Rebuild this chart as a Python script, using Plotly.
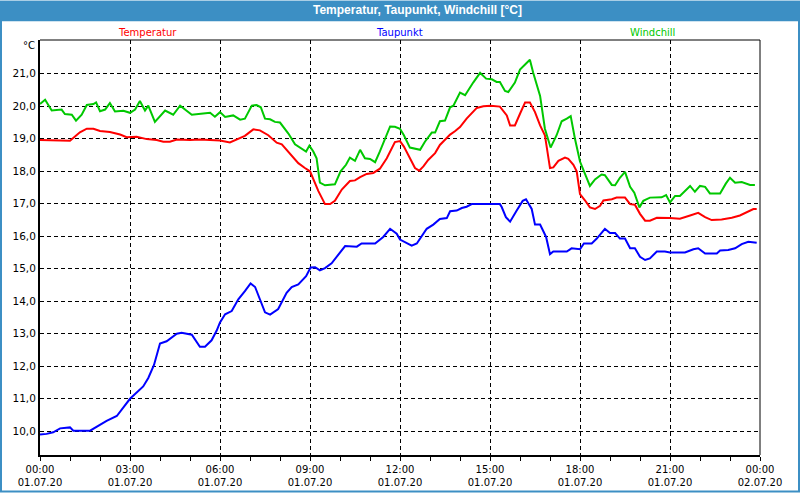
import plotly.graph_objects as go

# hours since 01.07.20 00:00 and readings in degC
temp_h = [0, 0.5, 0.75, 1.0, 1.33, 1.56, 1.78, 2.0, 2.33, 2.67, 2.89, 3.22, 3.56, 3.89, 4.11, 4.33, 4.56, 5.0, 5.33, 6.0,
          6.33, 6.56, 6.83, 7.11, 7.33, 7.61, 7.89, 8.06, 8.33, 8.61, 8.83, 9.0, 9.28, 9.5, 9.67, 9.83, 10.06, 10.33,
          10.5, 10.67, 10.89, 11.11, 11.33, 11.56, 11.83, 12.0,
          12.13, 12.33, 12.5, 12.64, 12.78, 12.94, 13.17, 13.33, 13.5, 13.67, 13.83, 14.0, 14.22, 14.39, 14.56, 14.78,
          15.02, 15.33, 15.56, 15.67, 15.83, 16.0, 16.17, 16.33, 16.5, 16.67, 16.83, 17.0, 17.11, 17.28, 17.5, 17.61,
          17.78, 17.89, 18.0,
          18.17, 18.33, 18.5, 18.67, 18.78, 19.06, 19.22, 19.5, 19.67, 19.83, 20.0, 20.17, 20.33, 20.56, 21.0, 21.33,
          21.67, 21.94, 22.17, 22.39, 22.72, 23.06, 23.33, 23.56, 23.78, 23.89]
temp = [18.96, 18.96, 18.94, 18.94, 19.2, 19.31, 19.31, 19.24, 19.21, 19.13, 19.05, 19.06, 18.99, 18.96, 18.91, 18.91,
        18.98, 18.96, 18.98, 18.95,
        18.89, 18.99, 19.09, 19.29, 19.26, 19.11, 18.88, 18.83, 18.56, 18.25, 18.1, 18.0, 17.39, 16.99, 16.99, 17.09,
        17.44, 17.7, 17.72, 17.82, 17.92, 17.95, 18.08, 18.4, 18.9, 18.93,
        18.76, 18.4, 18.1, 18.02, 18.15, 18.35, 18.56, 18.81, 18.96, 19.13, 19.23, 19.36, 19.62, 19.8, 19.95, 20.0,
        20.02, 19.99, 19.72, 19.41, 19.41, 19.77, 20.12, 20.12, 19.82, 19.41, 19.11, 18.1, 18.12, 18.32, 18.42, 18.38,
        18.2, 18.0, 17.3,
        17.1, 16.89, 16.84, 16.94, 17.1, 17.14, 17.19, 17.19, 16.99, 16.97, 16.69, 16.48, 16.48, 16.57, 16.56, 16.54,
        16.64, 16.72, 16.59, 16.5, 16.52, 16.57, 16.64, 16.74, 16.84, 16.84]

dew_h = [0, 0.22, 0.44, 0.67, 1.0, 1.11, 1.67, 1.94, 2.22, 2.56, 2.89, 3.0, 3.44, 3.61, 3.8, 4.0, 4.22, 4.56, 4.72,
         5.06, 5.33, 5.5, 5.72, 5.89, 6.0,
         6.17, 6.39, 6.61, 6.83, 7.02, 7.17, 7.5, 7.67, 7.94, 8.22, 8.39, 8.61, 8.87, 9.02, 9.17, 9.33, 9.5, 9.72,
         9.94, 10.17, 10.56, 10.72, 11.17, 11.44, 11.67, 11.89, 12.0,
         12.22, 12.39, 12.56, 12.72, 12.89, 13.11, 13.33, 13.56, 13.67, 13.89, 14.06, 14.22, 14.39, 15.33, 15.39,
         15.53, 15.67, 15.89, 16.09, 16.2, 16.39, 16.5, 16.67, 16.87, 17.0, 17.11, 17.56, 17.72, 18.0,
         18.13, 18.39, 18.56, 18.83, 19.0, 19.17, 19.33, 19.5, 19.67, 19.83, 20.0, 20.17, 20.33, 20.56, 20.83, 21.0,
         21.5, 21.78, 21.94, 22.17, 22.56, 22.67, 22.94, 23.17, 23.39, 23.61, 23.89]
dew = [9.9, 9.92, 9.97, 10.09, 10.12, 10.02, 10.02, 10.17, 10.32, 10.47, 10.85, 11.0, 11.38, 11.64, 12.04, 12.7,
       12.77, 13.0, 13.03, 12.97, 12.6, 12.6, 12.8, 13.1, 13.35,
       13.6, 13.7, 14.06, 14.31, 14.55, 14.44, 13.66, 13.59, 13.76, 14.26, 14.44, 14.52, 14.77, 15.04, 15.05, 14.95,
       15.02, 15.17, 15.42, 15.7, 15.68, 15.78, 15.78, 15.98, 16.23, 16.08, 15.9,
       15.78, 15.71, 15.78, 15.98, 16.23, 16.36, 16.53, 16.56, 16.77, 16.79, 16.87, 16.91, 16.99, 16.99, 16.9,
       16.59, 16.45, 16.79, 17.09, 17.14, 16.84, 16.36, 16.36, 15.98, 15.45, 15.53, 15.53, 15.63, 15.6,
       15.78, 15.78, 15.93, 16.23, 16.1, 16.1, 15.93, 15.93, 15.63, 15.63, 15.37, 15.27, 15.32, 15.53, 15.53, 15.5,
       15.5, 15.6, 15.63, 15.47, 15.47, 15.56, 15.58, 15.63, 15.76, 15.83, 15.8]

wind_h = [0, 0.17, 0.39, 0.72, 0.83, 1.06, 1.2, 1.39, 1.56, 1.78, 1.87, 2.0, 2.17, 2.33, 2.5, 2.78, 3.0, 3.17, 3.33,
          3.5, 3.61, 3.83, 4.17, 4.44, 4.67, 5.06, 5.44, 5.67, 5.83, 6.0,
          6.17, 6.44, 6.67, 6.83, 7.06, 7.22, 7.36, 7.5, 7.67, 7.83, 8.0, 8.28, 8.5, 8.67, 8.87, 8.98, 9.11, 9.22,
          9.33, 9.5, 9.83, 10.02, 10.2, 10.33, 10.5, 10.67, 10.83, 11.0, 11.17, 11.33, 11.5, 11.67, 11.83, 12.0,
          12.13, 12.33, 12.67, 12.83, 13.06, 13.17, 13.33, 13.5, 13.67, 13.78, 14.0, 14.17, 14.44, 14.67, 14.87,
          15.06, 15.22, 15.33, 15.5, 15.61, 15.83, 16.0, 16.22, 16.33, 16.44, 16.67, 16.83, 17.02, 17.22, 17.39,
          17.56, 17.69, 17.83, 18.0,
          18.33, 18.5, 18.72, 18.83, 19.06, 19.17, 19.33, 19.5, 19.67, 19.81, 19.98, 20.11, 20.33, 20.72, 20.87,
          21.0, 21.17, 21.33, 21.67, 21.83, 22.0, 22.17, 22.33, 22.67, 22.86, 23.0, 23.17, 23.39, 23.67, 23.83]
wind = [20.07, 20.2, 19.87, 19.9, 19.76, 19.74, 19.56, 19.74, 20.04, 20.07, 20.12, 19.85, 19.9, 20.1, 19.84, 19.86,
        19.8, 19.9, 20.16, 19.87, 20.02, 19.52, 19.87, 19.74, 20.02, 19.74, 19.78, 19.8, 19.68, 19.82,
        19.67, 19.72, 19.59, 19.62, 20.02, 20.04, 19.97, 19.62, 19.6, 19.52, 19.5, 19.16, 18.83, 18.73, 18.61, 18.79,
        18.61, 18.4, 17.65, 17.57, 17.6, 18.0, 18.2, 18.42, 18.32, 18.66, 18.4, 18.38, 18.28, 18.61, 19.01, 19.38,
        19.37, 19.31,
        19.11, 18.73, 18.66, 18.91, 19.19, 19.19, 19.54, 19.56, 19.97, 20.02, 20.42, 20.34, 20.73, 21.03, 20.85,
        20.83, 20.75, 20.75, 20.47, 20.44, 20.73, 21.13, 21.33, 21.43, 21.03, 20.32, 19.31, 18.73, 19.11, 19.54,
        19.62, 19.7, 19.01, 18.3,
        17.55, 17.75, 17.9, 17.88, 17.58, 17.57, 17.8, 17.98, 17.52, 17.34, 16.89, 17.09, 17.19, 17.2, 17.27,
        17.04, 17.24, 17.24, 17.55, 17.37, 17.55, 17.52, 17.32, 17.32, 17.62, 17.8, 17.65, 17.67, 17.58, 17.58]

x_ticks = [0, 3, 6, 9, 12, 15, 18, 21, 24]
x_labels = ["00:00<br>01.07.20", "03:00<br>01.07.20", "06:00<br>01.07.20", "09:00<br>01.07.20",
            "12:00<br>01.07.20", "15:00<br>01.07.20", "18:00<br>01.07.20", "21:00<br>01.07.20",
            "00:00<br>02.07.20"]
y_ticks = [10, 11, 12, 13, 14, 15, 16, 17, 18, 19, 20, 21]

W, H = 800, 500
L, R, T, B = 40, 40, 40, 38
pw, ph = W - L - R, H - T - B


def px(x):
    return (x - L) / pw


def py(y):
    return (H - B - y) / ph


font = "DejaVu Sans"
blue_bar = "#3c8fc4"

fig = go.Figure()
fig.add_trace(go.Scatter(x=temp_h, y=temp, name="Temperatur", mode="lines",
                         line=dict(color="#ff0000", width=2)))
fig.add_trace(go.Scatter(x=wind_h, y=wind, name="Windchill", mode="lines",
                         line=dict(color="#00c800", width=2)))
fig.add_trace(go.Scatter(x=dew_h, y=dew, name="Taupunkt", mode="lines",
                         line=dict(color="#0000ff", width=2)))

fig.update_xaxes(range=[0, 24], tickvals=x_ticks, ticktext=x_labels, showgrid=True,
                 gridcolor="black", griddash="4px,3px", gridwidth=1, zeroline=False,
                 showline=True, linecolor="black", linewidth=2,
                 ticks="outside", ticklen=4, tickcolor="black",
                 minor=dict(dtick=1, tick0=0, ticks="outside", ticklen=4, tickcolor="black", showgrid=False),
                 tickfont=dict(family=font, size=10, color="black"))
fig.update_yaxes(range=[9.27, 22.04], tickvals=y_ticks, tickformat=".1f", showgrid=True,
                 gridcolor="black", griddash="4px,3px", gridwidth=1, zeroline=False,
                 showline=True, linecolor="black", linewidth=2, ticks="",
                 tickfont=dict(family=font, size=10.5, color="black"))

shapes = [
    # title bar and window frame
    dict(type="rect", xref="paper", yref="paper", x0=px(0), x1=px(W), y0=py(21), y1=py(0),
         fillcolor=blue_bar, line=dict(width=0), layer="above"),
    dict(type="rect", xref="paper", yref="paper", x0=px(1), x1=px(W - 1), y0=py(H - 1), y1=py(1),
         line=dict(color=blue_bar, width=2), layer="above"),
    # top and right border of plot area
    dict(type="line", xref="paper", yref="paper", x0=0, x1=1, y0=1, y1=1, line=dict(color="black", width=1)),
    dict(type="line", xref="paper", yref="paper", x0=1, x1=1, y0=0, y1=1, line=dict(color="black", width=1)),
]

annotations = [
    dict(text="<b>Temperatur, Taupunkt, Windchill [°C]</b>", x=px(417), y=py(10), xref="paper", yref="paper",
         showarrow=False, xanchor="center", yanchor="middle",
         font=dict(family="Liberation Sans", size=12, color="white")),
    dict(text="Temperatur", x=px(147), y=py(32), xref="paper", yref="paper", showarrow=False,
         xanchor="center", yanchor="middle", font=dict(family=font, size=10, color="#ff0000")),
    dict(text="Taupunkt", x=px(399), y=py(32), xref="paper", yref="paper", showarrow=False,
         xanchor="center", yanchor="middle", font=dict(family=font, size=10, color="#0000ff")),
    dict(text="Windchill", x=px(652), y=py(32), xref="paper", yref="paper", showarrow=False,
         xanchor="center", yanchor="middle", font=dict(family=font, size=10, color="#00c800")),
    dict(text="°C", x=px(37), y=py(46), xref="paper", yref="paper", showarrow=False,
         xanchor="right", yanchor="middle", font=dict(family=font, size=10, color="black")),
]

fig.update_layout(width=W, height=H, autosize=False, margin=dict(l=L, r=R, t=T, b=B),
                  paper_bgcolor="white", plot_bgcolor="white", showlegend=False,
                  separators=", ", shapes=shapes, annotations=annotations,
                  font=dict(family=font, size=10, color="black"))

fig.write_html("out.html", config={"displayModeBar": False, "responsive": False},
               post_script="document.body.style.margin='0';document.body.style.overflow='hidden';")
